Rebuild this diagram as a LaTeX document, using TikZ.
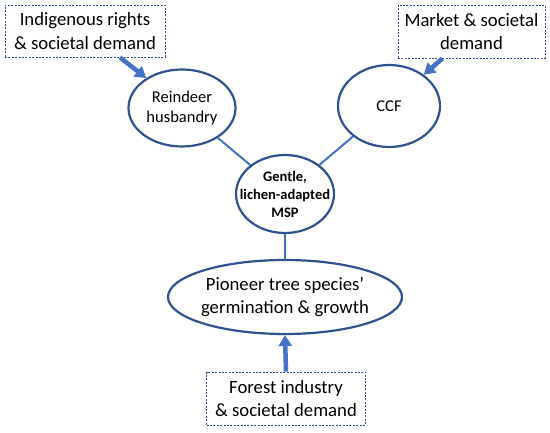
\documentclass[tikz,border=0pt]{standalone}
\usepackage{fontspec}
\setmainfont{Carlito}
\usetikzlibrary{shapes.geometric,arrows.meta}
\definecolor{edgeblue}{HTML}{2F528F}
\definecolor{lineblue}{HTML}{4472C4}
\begin{document}
\begin{tikzpicture}[x=1pt,y=-1pt,
  demandbox/.style={draw=edgeblue,line width=0.9pt,dash pattern=on 2pt off 1.4pt,
    rectangle,inner sep=0pt,align=center,
    font=\fontsize{18.7}{23.5}\selectfont},
  oval/.style={draw=edgeblue,line width=2.2pt,ellipse,inner sep=0pt},
  ovaltext/.style={align=center,inner sep=0pt},
  link/.style={draw=lineblue,line width=2pt},
  push/.style={draw=lineblue,line width=4.5pt,-{Triangle[length=11pt,width=13pt]}}
]
\useasboundingbox (0,0) rectangle (550,433);

\node[demandbox,minimum width=160pt,minimum height=52pt] (box1) at (85,31)
  {Indigenous rights\\\& societal demand};
\node[demandbox,minimum width=147pt,minimum height=53pt] (box2) at (471.5,31.5)
  {Market \& societal\\demand};
\node[demandbox,minimum width=159pt,minimum height=53pt] (box3) at (286,398.5)
  {Forest industry\\\& societal demand};

\node[oval,minimum width=107pt,minimum height=77pt,
  label={[ovaltext,font=\fontsize{16.5}{20}\selectfont]center:Reindeer\\husbandry}]
  (reindeer) at (182,108) {};
\node[oval,minimum width=102pt,minimum height=82pt,
  label={[ovaltext,font=\fontsize{16.5}{20}\selectfont]center:CCF}]
  (ccf) at (389,106) {};
\node[oval,minimum width=98pt,minimum height=78pt,
  label={[ovaltext,font=\bfseries\fontsize{14.5}{18}\selectfont]center:Gentle,\\lichen-adapted\\MSP}]
  (msp) at (285,194) {};
\node[oval,minimum width=234pt,minimum height=74pt,
  label={[ovaltext,font=\fontsize{18.7}{23.5}\selectfont]center:Pioneer tree species’\\germination \& growth}]
  (pioneer) at (285,297) {};

\draw[link] (reindeer) -- (msp);
\draw[link] (ccf) -- (msp);
\draw[link] (msp) -- (pioneer);

\draw[push] ([xshift=35pt]box1.south) -- (reindeer.140);
\draw[push] ([xshift=-29pt]box2.south) -- (ccf.42);
\draw[push] (box3.north) -- (pioneer.south);
\end{tikzpicture}
\end{document}
